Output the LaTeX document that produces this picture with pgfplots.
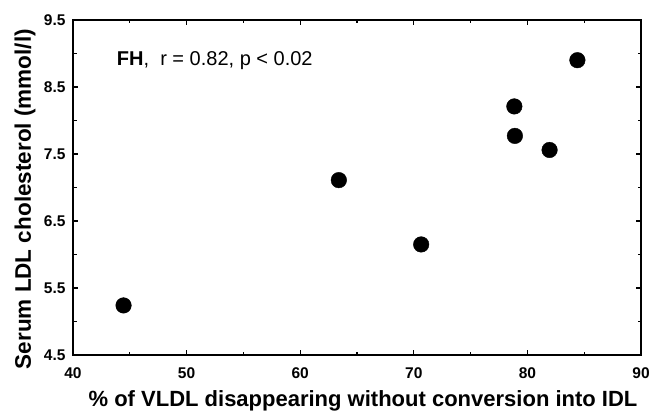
\documentclass[border=0pt]{standalone}
\usepackage{fontspec}
\setmainfont{Liberation Sans}
\usepackage{pgfplots}
\pgfplotsset{compat=1.18}
\begin{document}
\begin{tikzpicture}
\begin{axis}[
  scale only axis,
  width=568pt, height=335pt,
  xmin=40, xmax=90, ymin=4.5, ymax=9.5,
  xtick={40,50,...,90},
  ytick={4.5,5.5,...,9.5},
  minor x tick num=1,
  minor y tick num=1,
  tick align=inside,
  major tick length=5pt,
  minor tick length=3.5pt,
  axis line style={line width=1.4pt},
  every tick/.style={line width=1.1pt, black},
  /pgf/number format/assume math mode=true,
  /pgf/number format/fixed,
  /pgf/number format/precision=1,
  yticklabel style={/pgf/number format/fixed zerofill, font=\fontsize{15.5}{17}\selectfont\bfseries, xshift=-4pt},
  xticklabel style={font=\fontsize{15.5}{17}\selectfont\bfseries, yshift=-9pt},
  xlabel={\% of VLDL disappearing without conversion into IDL},
  ylabel={Serum LDL cholesterol (mmol/l)},
  xlabel style={font=\fontsize{22}{24}\selectfont\bfseries, at={(rel axis cs:0.5,0)}, anchor=base, yshift=-51.5pt, xshift=6pt},
  ylabel style={font=\fontsize{22.5}{24}\selectfont\bfseries, at={(rel axis cs:-0.074,0.465)}, anchor=base},
  clip=false,
]
\addplot[only marks, mark=*, mark size=7.8pt, mark options={fill=black, draw=black}] coordinates {
  (44.45,5.24) (63.4,7.11) (70.65,6.15) (78.85,8.21) (78.9,7.77) (81.95,7.56) (84.4,8.90)
};
\node[anchor=base west, font=\fontsize{20}{22}\selectfont, inner sep=0pt] at (axis cs:43.85,8.82) {\textbf{FH},\ \ r = 0.82, p < 0.02};
\coordinate (sw) at (rel axis cs:0,0);
\coordinate (ne) at (rel axis cs:1,1);
\end{axis}
\pgfresetboundingbox
\path (sw) ++(-73pt,-56pt) coordinate (bl);
\path (ne) ++(10pt,20pt) coordinate (tr);
\path[use as bounding box] (bl) rectangle (tr);
\end{tikzpicture}
\end{document}
